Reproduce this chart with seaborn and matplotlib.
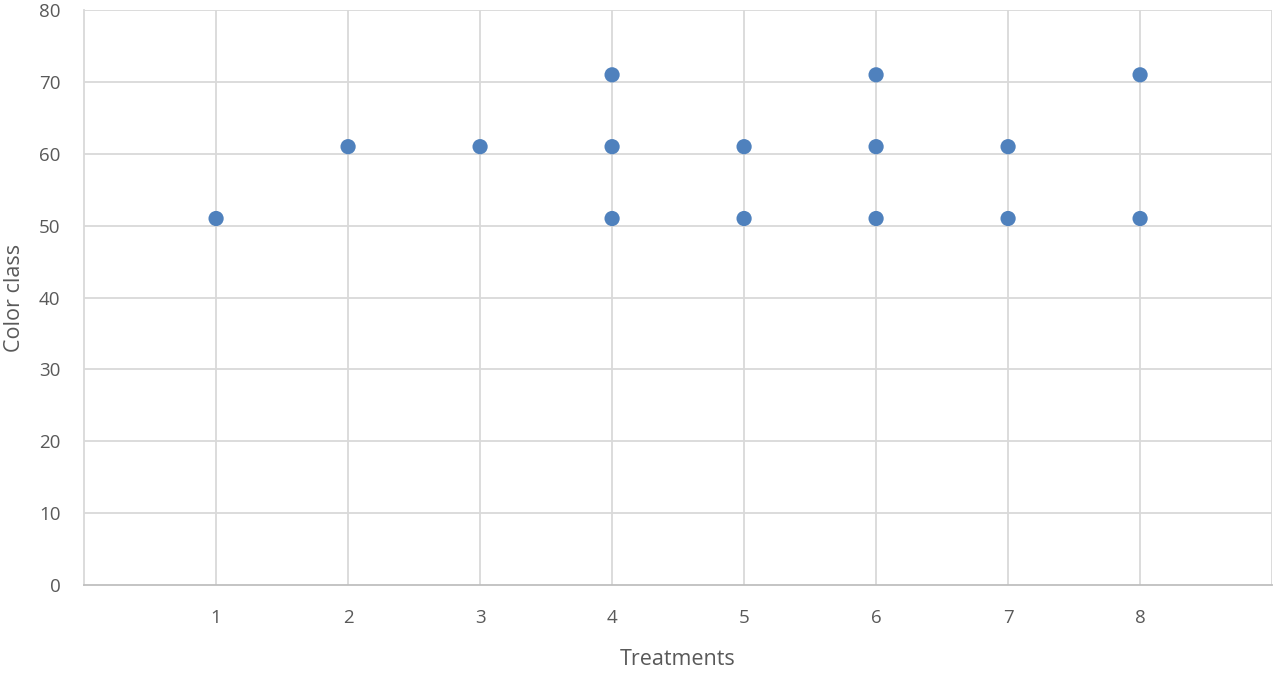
import matplotlib
matplotlib.use("Agg")
import matplotlib.pyplot as plt
import seaborn as sns
import pandas as pd

# valeurs
treatments = [1, 2, 3, 4, 4, 4, 5, 5, 6, 6, 6, 7, 7, 8, 8]
color_class = [51, 61, 61, 71, 61, 51, 61, 51, 71, 61, 51, 61, 51, 71, 51]
y_ticks = [0, 10, 20, 30, 40, 50, 60, 70, 80]
x_ticks = [1, 2, 3, 4, 5, 6, 7, 8]

df = pd.DataFrame({"Treatments": treatments, "Color class": color_class})

sns.set_style("white")
plt.rcParams['font.family'] = ['Open Sans', 'DejaVu Sans']

fig = plt.figure(figsize=(12.74, 6.77), dpi=100)
ax = fig.add_axes([0.066, 0.136, 0.9325, 0.849])

grid_col = "#d9d9d9"
for v in range(1, 10):
    ax.axvline(v, color=grid_col, lw=1.3, zorder=0)
for v in y_ticks[1:]:
    ax.axhline(v, color=grid_col, lw=1.3, zorder=0)

sns.scatterplot(data=df, x="Treatments", y="Color class", ax=ax,
                color="#4f81bd", s=120, edgecolor="none", zorder=3, clip_on=False)

ax.set_xlim(0, 9)
ax.set_ylim(0, 80)
ax.set_xticks(x_ticks)
ax.set_yticks(y_ticks)
ax.tick_params(axis='both', length=0, labelsize=13.5, colors="#595959")
ax.tick_params(axis='x', pad=17)
ax.tick_params(axis='y', pad=17)

for s in ["top", "right"]:
    ax.spines[s].set_visible(False)
ax.spines["left"].set_color(grid_col)
ax.spines["left"].set_linewidth(1.3)
ax.spines["bottom"].set_color("#bfbfbf")
ax.spines["bottom"].set_linewidth(1.3)

ax.set_xlabel("Treatments", fontsize=15.5, color="#595959", labelpad=16)
ax.set_ylabel("Color class", fontsize=15.5, color="#595959", labelpad=10)

fig.savefig("out.png", dpi=100)
